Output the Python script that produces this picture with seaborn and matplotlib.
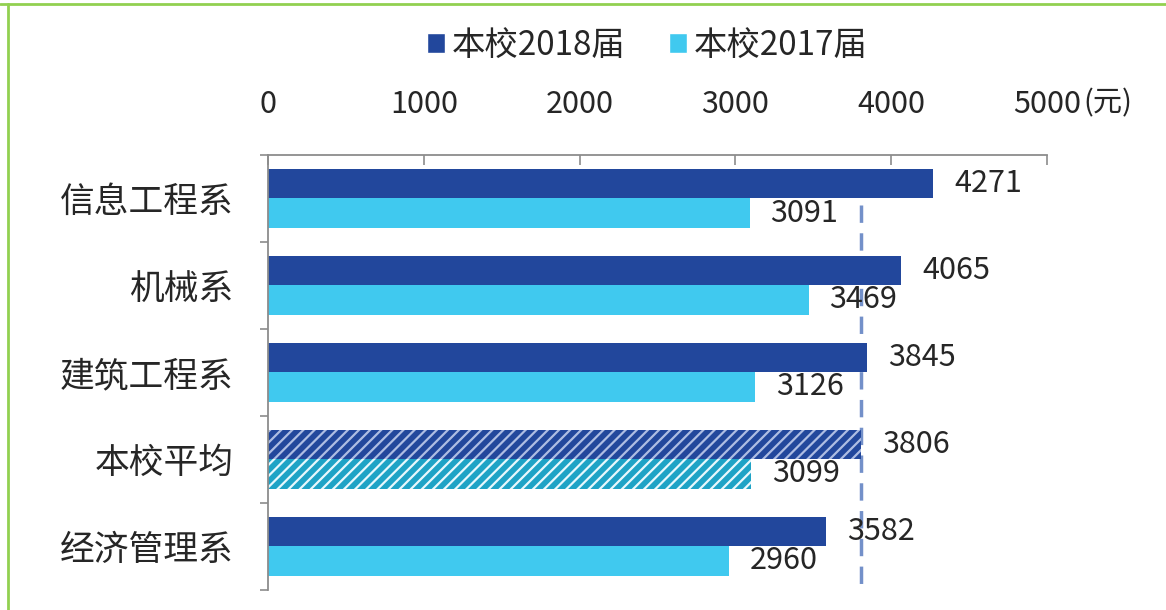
import matplotlib
matplotlib.use("Agg")
import matplotlib.pyplot as plt
from matplotlib.lines import Line2D
from matplotlib.patches import Patch
import seaborn as sns
import pandas as pd

sns.set_style("white")
plt.rcParams["font.family"] = ["Noto Sans CJK SC", "DejaVu Sans"]
plt.rcParams["hatch.linewidth"] = 1.6

# data
departments = ["信息工程系", "机械系", "建筑工程系", "本校平均", "经济管理系"]
salary_2018 = [4271, 4065, 3845, 3806, 3582]
salary_2017 = [3091, 3469, 3126, 3099, 2960]
series_names = ["本校2018届", "本校2017届"]
x_ticks = [0, 1000, 2000, 3000, 4000, 5000]
avg_label = "本校平均"

dark_blue = "#22479c"
light_blue = "#40c9ef"

df = pd.DataFrame({
    "dept": departments * 2,
    "value": salary_2018 + salary_2017,
    "year": [series_names[0]] * len(departments) + [series_names[1]] * len(departments),
})

fig = plt.figure(figsize=(11.66, 6.10), dpi=100)
ax = fig.add_axes([0.2298, 0.033, 0.898 - 0.2298, 0.746 - 0.033])

sns.barplot(data=df, y="dept", x="value", hue="year", orient="h",
            palette=[dark_blue, light_blue], width=0.67, saturation=1,
            errorbar=None, linewidth=0, ax=ax, zorder=2)

# hatch the school-average bars
avg_idx = departments.index(avg_label)
for cont, hc, fc in zip(ax.containers, ["#aebde3", "#e8f8fd"], [dark_blue, "#1ea3c6"]):
    bar = cont[avg_idx]
    bar.set_hatch("///")
    bar.set_facecolor(fc)
    bar.set_edgecolor(hc)
    bar.set_linewidth(0)

# value labels
for cont in ax.containers:
    ax.bar_label(cont, fmt="%d", padding=15, fontsize=22)

# dashed line at the 2018 school average
avg_val = salary_2018[avg_idx]
ax.vlines(avg_val, 0.08, len(departments) - 0.5, colors="#7390c9", linewidth=2.5,
          linestyles=(0, (5, 3)), zorder=1)

ax.set_xlim(0, 5000)
ax.set_ylim(len(departments) - 0.5, -0.5)
ax.set_xticks(x_ticks)
ax.set_xticklabels([str(t) for t in x_ticks])
ax.xaxis.tick_top()
ax.tick_params(axis="x", which="major", direction="in", length=7, width=1.2,
               color="#8c8c8c", labelsize=22, pad=25)
ax.annotate("(元)", xy=(5000, 1), xycoords=("data", "axes fraction"),
            xytext=(26, 37), textcoords="offset points", ha="left", va="center",
            fontsize=21)

ax.set_yticks(range(len(departments)))
ax.set_yticklabels(departments)
ax.set_yticks([i - 0.5 for i in range(len(departments) + 1)], minor=True)
ax.tick_params(axis="y", which="major", length=0, labelsize=25, pad=25)
ax.tick_params(axis="y", which="minor", direction="out", length=6, width=1.2,
               color="#8c8c8c", left=True)

ax.set_xlabel("")
ax.set_ylabel("")
for side in ["right", "bottom"]:
    ax.spines[side].set_visible(False)
for side in ["top", "left"]:
    ax.spines[side].set_color("#8c8c8c")
    ax.spines[side].set_linewidth(1.3)

handles = [Patch(facecolor=dark_blue), Patch(facecolor=light_blue)]
ax.get_legend().remove()
fig.legend(handles, series_names, loc="center", bbox_to_anchor=(0.555, 0.926),
           ncol=2, frameon=False, fontsize=24, handlelength=0.55, handleheight=0.55,
           handletextpad=0.2, columnspacing=1.3)

# green frame (top and left edges visible in the reference)
fig.add_artist(Line2D([0, 1], [1 - 4 / 610] * 2, color="#92d050", linewidth=2))
fig.add_artist(Line2D([8 / 1166] * 2, [0, 1 - 4 / 610], color="#92d050", linewidth=2))

fig.savefig("out.png", dpi=100)
